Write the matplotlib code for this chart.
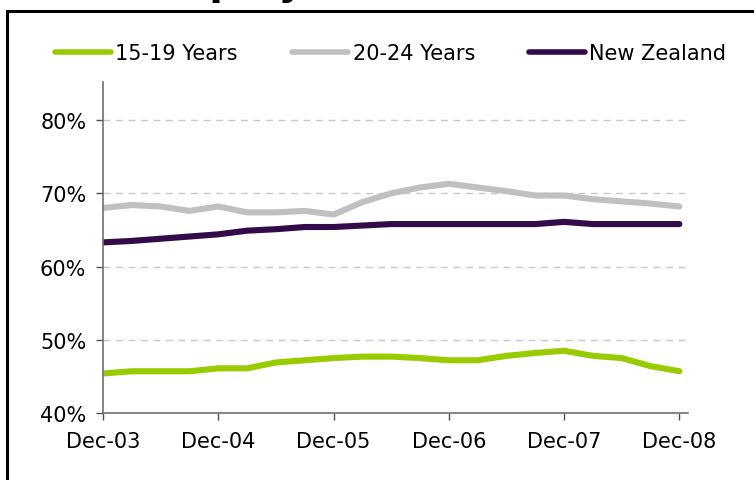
import matplotlib
matplotlib.use("Agg")
import matplotlib.pyplot as plt
from matplotlib.patches import Rectangle

# Quarterly employment rates, Dec-03 to Dec-08 (percent)
quarters = ["Dec-03", "Mar-04", "Jun-04", "Sep-04", "Dec-04", "Mar-05", "Jun-05",
            "Sep-05", "Dec-05", "Mar-06", "Jun-06", "Sep-06", "Dec-06", "Mar-07",
            "Jun-07", "Sep-07", "Dec-07", "Mar-08", "Jun-08", "Sep-08", "Dec-08"]
age_15_19 = [45.4, 45.7, 45.7, 45.7, 46.1, 46.1, 46.9, 47.2, 47.5, 47.7, 47.7,
             47.5, 47.2, 47.2, 47.8, 48.2, 48.5, 47.8, 47.5, 46.4, 45.7]
age_20_24 = [68.0, 68.4, 68.2, 67.6, 68.2, 67.4, 67.4, 67.6, 67.1, 68.8, 70.0,
             70.8, 71.3, 70.8, 70.3, 69.7, 69.7, 69.2, 68.9, 68.6, 68.2]
new_zealand = [63.3, 63.5, 63.8, 64.1, 64.4, 64.9, 65.1, 65.4, 65.4, 65.6, 65.8,
               65.8, 65.8, 65.8, 65.8, 65.8, 66.1, 65.8, 65.8, 65.8, 65.8]
series_labels = ["15-19 Years", "20-24 Years", "New Zealand"]
series_colors = ["#99CC00", "#C0C0C0", "#330A4A"]
y_ticks = [40, 50, 60, 70, 80]
x_tick_labels = ["Dec-03", "Dec-04", "Dec-05", "Dec-06", "Dec-07", "Dec-08"]
title_text = "Employment, 2003\u20132008"

plt.rcParams["font.family"] = ["DejaVu Sans"]

fig = plt.figure(figsize=(7.54, 4.81), dpi=100)
ax = fig.add_axes([0.1366, 0.1393, 0.9125 - 0.1366, 0.8274 - 0.1393])

x = list(range(len(quarters)))
for vals, lab, col in zip([age_15_19, age_20_24, new_zealand], series_labels, series_colors):
    ax.plot(x, vals, color=col, lw=4.4, label=lab, solid_capstyle="round",
            solid_joinstyle="round")

ax.set_xlim(0, 20.3)
ax.set_ylim(40, 85.2)
ax.set_yticks(y_ticks)
ax.set_yticklabels([f"{v}%" for v in y_ticks])
ax.set_xticks([0, 4, 8, 12, 16, 20])
ax.set_xticklabels(x_tick_labels)

for v in y_ticks[1:]:
    ax.axhline(v, color="#C8C8C8", lw=1, ls=(0, (5, 4)), zorder=0)

for s in ["top", "right"]:
    ax.spines[s].set_visible(False)
for s in ["left", "bottom"]:
    ax.spines[s].set_color("#707070")
    ax.spines[s].set_linewidth(1.2)

ax.tick_params(axis="both", colors="#505050", labelcolor="black", labelsize=15,
               length=5, width=1)
ax.tick_params(axis="x", pad=8)
ax.tick_params(axis="y", pad=7)

handles, labels = ax.get_legend_handles_labels()
leg = fig.legend(handles, labels, loc="center left",
                 bbox_to_anchor=(55 / 754, 1 - 54 / 481), ncol=3,
                 frameon=False, fontsize=15, handlelength=2.7, handletextpad=0.2,
                 columnspacing=2.6, borderaxespad=0, borderpad=0)
for line in leg.get_lines():
    line.set_linewidth(4.0)

# Outer frame of the chart panel
fig.patches.append(Rectangle((6.5 / 754, -0.05), 1.0, 1 - 11.5 / 481 + 0.05,
                             transform=fig.transFigure, fill=False,
                             edgecolor="black", lw=2.2))

# Panel heading, sitting above the frame
fig.text(141 / 754, 1 + 6 / 481, title_text, ha="left", va="baseline",
         fontsize=28.5, fontweight="bold")

fig.savefig("out.png", dpi=100)
